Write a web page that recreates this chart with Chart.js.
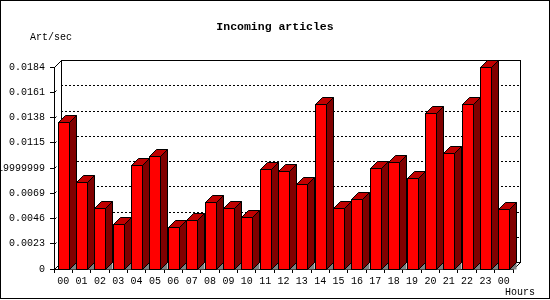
<!DOCTYPE html>
<html>
<head>
<meta charset="utf-8">
<title>Incoming articles</title>
<script src="https://cdn.jsdelivr.net/npm/chart.js@4.4.0/dist/chart.umd.min.js"></script>
<style>
  html, body { margin: 0; padding: 0; background: #fff; }
  canvas { display: block; }
</style>
</head>
<body>
<canvas id="articlesChart" width="550" height="300"></canvas>
<script>
// valeurs
const hours = ['00', '01', '02', '03', '04', '05', '06', '07', '08', '09', '10', '11',
               '12', '13', '14', '15', '16', '17', '18', '19', '20', '21', '22', '23', '00'];
const articlesPerSec = [0.01342, 0.00795, 0.00553, 0.00407, 0.00944, 0.01029, 0.0038, 0.00443,
                        0.00607, 0.00553, 0.00471, 0.00914, 0.0089, 0.00774, 0.0150, 0.00553,
                        0.00635, 0.00917, 0.00972, 0.00826, 0.01418, 0.01054, 0.0150, 0.01837,
                        0.00544];
const yTicks = [0, 0.0023, 0.0046, 0.0069, 0.0092, 0.0115, 0.0138, 0.0161, 0.0184];
const yTickLabels = ['0', '0.0023', '0.0046', '0.0069', '0.00919999999', '0.0115', '0.0138', '0.0161', '0.0184'];

const DEPTH = 7;
const MONO = "'Liberation Mono', 'DejaVu Sans Mono', monospace";

// effet 3D : mur du fond, grille pointillee, faces des barres
const bars3d = {
  id: 'bars3d',
  beforeDatasetsDraw(chart) {
    const ctx = chart.ctx;
    const { left, right, top, bottom } = chart.chartArea;
    const yScale = chart.scales.y;
    const d = DEPTH;
    ctx.save();
    ctx.strokeStyle = '#000';
    ctx.lineWidth = 1;

    // grille pointillee sur le mur
    ctx.setLineDash([2, 2]);
    yTicks.forEach(function (v, i) {
      if (i === 0 || i === yTicks.length - 1) return;
      const y = Math.round(yScale.getPixelForValue(v)) - d + 0.5;
      ctx.beginPath();
      ctx.moveTo(left + d, y);
      ctx.lineTo(right + d, y);
      ctx.stroke();
      // petit trait oblique depuis l'axe
      const y0 = Math.round(yScale.getPixelForValue(v)) + 0.5;
      ctx.setLineDash([]);
      ctx.beginPath();
      ctx.moveTo(left + 0.5, y0);
      ctx.lineTo(left + 2.5, y0 - 2);
      ctx.stroke();
      ctx.setLineDash([2, 2]);
    });
    ctx.setLineDash([]);

    // contour du mur
    ctx.strokeRect(Math.round(left) + d + 0.5, Math.round(top) - d + 0.5,
                   Math.round(right - left), Math.round(bottom - top));
    ctx.beginPath();
    ctx.moveTo(Math.round(left) + 0.5, Math.round(top) + 0.5);
    ctx.lineTo(Math.round(left) + d + 0.5, Math.round(top) - d + 0.5);
    ctx.moveTo(Math.round(left) + 0.5, Math.round(bottom) + 0.5);
    ctx.lineTo(Math.round(left) + d + 0.5, Math.round(bottom) - d + 0.5);
    ctx.moveTo(Math.round(right) + 0.5, Math.round(bottom) + 0.5);
    ctx.lineTo(Math.round(right) + d + 0.5, Math.round(bottom) - d + 0.5);
    ctx.stroke();
    ctx.restore();
  },
  beforeDatasetDraw() {
    return false; // on dessine les barres nous-memes
  },
  afterDatasetsDraw(chart) {
    const ctx = chart.ctx;
    const d = DEPTH;
    const meta = chart.getDatasetMeta(0);
    ctx.save();
    ctx.strokeStyle = '#000';
    ctx.lineWidth = 1;
    meta.data.forEach(function (bar) {
      const p = bar.getProps(['x', 'y', 'base', 'width'], true);
      const x1 = Math.round(p.x - p.width / 2) + 0.5;
      const x2 = Math.round(p.x + p.width / 2) + 0.5;
      const yt = Math.round(p.y) + 0.5;
      const yb = Math.round(p.base) + 0.5;

      // ombre grise au pied
      ctx.fillStyle = '#808080';
      ctx.beginPath();
      ctx.moveTo(x2, yb);
      ctx.lineTo(x2 + d, yb - d);
      ctx.lineTo(x2 + d, yb);
      ctx.closePath();
      ctx.fill();

      // face avant
      ctx.fillStyle = '#ff0000';
      ctx.fillRect(x1, yt, x2 - x1, yb - yt);
      ctx.strokeRect(x1, yt, x2 - x1, yb - yt);

      // dessus
      ctx.fillStyle = '#c00000';
      ctx.beginPath();
      ctx.moveTo(x1, yt);
      ctx.lineTo(x1 + d, yt - d);
      ctx.lineTo(x2 + d, yt - d);
      ctx.lineTo(x2, yt);
      ctx.closePath();
      ctx.fill();
      ctx.stroke();

      // cote
      ctx.fillStyle = '#800000';
      ctx.beginPath();
      ctx.moveTo(x2, yt);
      ctx.lineTo(x2 + d, yt - d);
      ctx.lineTo(x2 + d, yb - d);
      ctx.lineTo(x2, yb);
      ctx.closePath();
      ctx.fill();
      ctx.stroke();
    });
    ctx.restore();
  },
  afterDraw(chart) {
    const ctx = chart.ctx;
    ctx.save();
    ctx.fillStyle = '#000';
    ctx.textBaseline = 'middle';

    ctx.font = 'bold 11.5px ' + MONO;
    ctx.textAlign = 'center';
    ctx.fillText('Incoming articles', 275, 27);

    ctx.font = '10px ' + MONO;
    ctx.textAlign = 'left';
    ctx.fillText('Art/sec', 30, 37);
    ctx.fillText('Hours', 505, 292);

    // cadre de l'image
    ctx.strokeStyle = '#000';
    ctx.lineWidth = 1;
    ctx.strokeRect(0.5, 0.5, 549, 298);
    ctx.restore();
  }
};

const ctx = document.getElementById('articlesChart').getContext('2d');
new Chart(ctx, {
  type: 'bar',
  data: {
    labels: hours,
    datasets: [{
      label: 'Art/sec',
      data: articlesPerSec,
      backgroundColor: '#ff0000',
      borderColor: '#000',
      borderWidth: 1,
      categoryPercentage: 1.0,
      barPercentage: 0.6
    }]
  },
  options: {
    responsive: false,
    animation: false,
    layout: {
      padding: { top: 67, right: 37, bottom: 0, left: 0 }
    },
    plugins: {
      legend: { display: false },
      tooltip: { enabled: false },
      title: { display: false }
    },
    scales: {
      x: {
        afterFit: function (scale) { scale.height = 31; },
        grid: { drawOnChartArea: false, drawTicks: true, tickLength: 4, color: '#000', offset: true },
        border: { color: '#000', width: 1 },
        ticks: {
          color: '#000',
          font: { family: MONO, size: 10 },
          padding: 2,
          autoSkip: false,
          maxRotation: 0
        }
      },
      y: {
        min: 0,
        max: 0.0184,
        afterFit: function (scale) { scale.width = 54; },
        afterBuildTicks: function (scale) {
          scale.ticks = yTicks.map(function (v) { return { value: v }; });
        },
        grid: { drawOnChartArea: false, drawTicks: true, tickLength: 4, color: '#000' },
        border: { color: '#000', width: 1 },
        ticks: {
          color: '#000',
          font: { family: MONO, size: 10 },
          padding: 5,
          callback: function (value, index) { return yTickLabels[index]; }
        }
      }
    }
  },
  plugins: [bars3d]
});
</script>
</body>
</html>
